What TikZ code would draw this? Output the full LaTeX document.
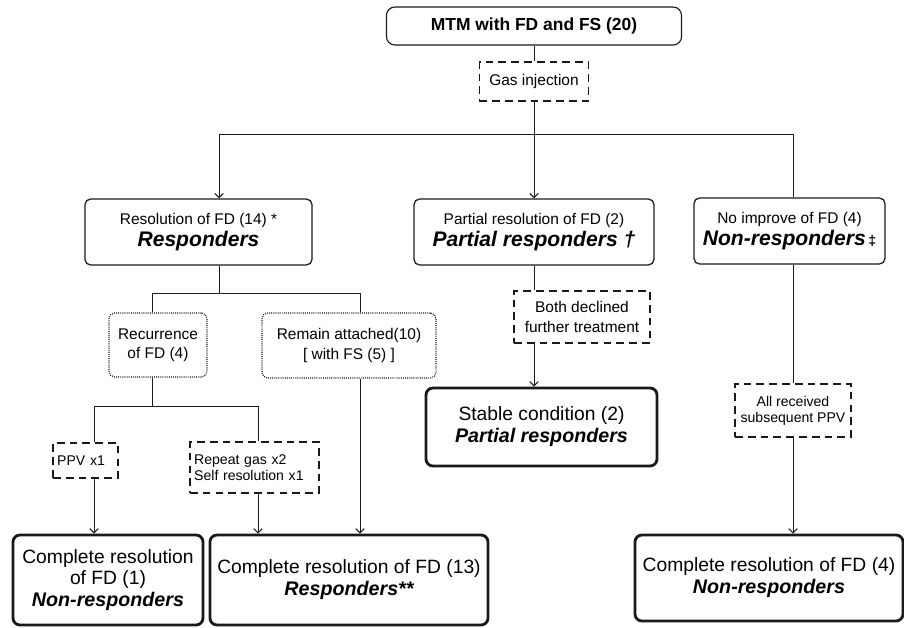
\documentclass[tikz,border=0pt]{standalone}
\usepackage{fontspec}
\setmainfont{Liberation Sans}
\usetikzlibrary{arrows.meta,positioning}
\definecolor{flowLine}{HTML}{1A1A1A}
\newcommand\grpname[1]{{\fontsize{15}{16}\selectfont\bfseries\itshape #1}}
\newcommand\resname[1]{{\fontsize{14}{15}\selectfont\bfseries\itshape #1}}

\begin{document}
\begin{tikzpicture}[x=0.025cm, y=-0.025cm,
        every node/.style={font=\fontsize{11}{13.7}\selectfont, inner sep=2pt, align=center},
        head/.style={draw=flowLine, line width=0.8pt, rounded corners=6pt, minimum width=7.375cm, minimum height=0.95cm, font=\fontsize{12.4}{14}\selectfont\bfseries},
        grp/.style={draw=flowLine, line width=0.9pt, rounded corners=4pt, minimum height=1.65cm, font=\fontsize{11}{16}\selectfont},
        sub/.style={draw=flowLine, dash pattern=on 0.7pt off 0.8pt, line width=0.8pt, rounded corners=4pt},
        act/.style={draw=flowLine, dash pattern=on 5.5pt off 3.6pt, line width=0.8pt, font=\fontsize{10}{11.3}\selectfont},
        res/.style={draw=flowLine, line width=2pt, rounded corners=5pt, font=\fontsize{13.7}{15.6}\selectfont},
        ln/.style={line width=0.7pt, flowLine},
        ar/.style={ln, -{Straight Barb[length=3pt,width=6pt]}}
    ]
        \useasboundingbox (0,0) rectangle (904,627);
        % top of the tree
        \node[head] (mtm) at (534,26) {MTM with FD and FS (20)};
        \node[act, minimum width=2.725cm, minimum height=0.975cm, font=\fontsize{11}{13.7}\selectfont] (gas) at (534,81.5) {Gas injection};
        \node[grp, minimum width=5.675cm] (resp) at (198.5,232) {Resolution of FD (14) *\\\grpname{Responders}};
        \node[grp, minimum width=6cm] (part) at (534,232) {Partial resolution of FD (2)\\\grpname{Partial responders †}};
        \node[grp, minimum width=4.775cm] (nonr) at (789.5,231) {No improve of FD (4)\\\grpname{Non-responders}\,{\fontsize{10}{10}\selectfont\bfseries ‡}};
        % responders
        \node[sub, minimum width=2.45cm, minimum height=1.6cm] (recur) at (158,345) {Recurrence\\of FD (4)};
        \node[sub, minimum width=4.35cm, minimum height=1.625cm] (remain) at (349,345.5) {Remain attached(10)\\{[} with FS (5) {]}};
        \node[act, inner sep=3pt, text width=1.415cm, align=left, minimum height=0.875cm] (ppv) at (85.5,460.5) {PPV x1};
        \node[act, inner sep=3pt, text width=3.015cm, align=left, minimum height=1.275cm] (rep) at (254.5,467.5) {Repeat gas x2\\Self resolution x1};
        % partial and non-responders
        \node[act, minimum width=3.4cm, minimum height=1.3cm, font=\fontsize{11}{13.7}\selectfont] (both) at (582,317) {Both declined\\further treatment};
        \node[act, minimum width=2.9cm, minimum height=1.325cm] (allr) at (793,410.5) {All received\\subsequent PPV};
        % outcomes
        \node[res, minimum width=5.775cm, minimum height=1.95cm] (stable) at (541.5,427) {Stable condition (2)\\\resname{Partial responders}};
        \node[res, minimum width=4.75cm, minimum height=2.25cm] (c1) at (108,580) {Complete resolution\\of FD (1)\\\resname{Non-responders}};
        \node[res, minimum width=6.95cm, minimum height=2.25cm] (c13) at (349,580) {Complete resolution of FD (13)\\\resname{Responders**}};
        \node[res, minimum width=6.7cm, minimum height=2.15cm] (c4) at (769,578) {Complete resolution of FD (4)\\\resname{Non-responders}};

        \coordinate (lsplit) at (219,134);
        \coordinate (rsplit) at (793,134);
        \coordinate (rbar) at (219,293);
        \coordinate (rl) at (152,293);
        \coordinate (rr) at (360,293);
        \coordinate (cbar) at (152,406);
        \coordinate (cl) at (94,406);
        \coordinate (cr) at (258,406);

        \draw[ln] (mtm) -- (gas);
        \draw[ar] (gas) -- (part);
        \draw[ar] (rsplit) -- (lsplit) -- (resp.north -| lsplit);
        \draw[ln] (rsplit) -- (nonr.north -| rsplit);

        \draw[ln] (resp.south -| rbar) -- (rbar);
        \draw[ln] (recur.north -| rl) -- (rl) -- (rr) -- (remain.north -| rr);
        \draw[ln] (recur.south -| cbar) -- (cbar);
        \draw[ln] (ppv.north -| cl) -- (cl) -- (cr) -- (rep.north -| cr);
        \draw[ar] (ppv.south -| cl) -- (c1.north -| cl);
        \draw[ar] (rep.south -| cr) -- (c13.north -| cr);
        \draw[ar] (remain.south -| rr) -- (c13.north -| rr);

        \draw[ln] (part) -- (both.north -| part);
        \draw[ar] (both.south -| part) -- (stable.north -| part);
        \draw[ln] (nonr.south -| rsplit) -- (allr);
        \draw[ar] (allr) -- (c4.north -| allr);
    \end{tikzpicture}
\end{document}
